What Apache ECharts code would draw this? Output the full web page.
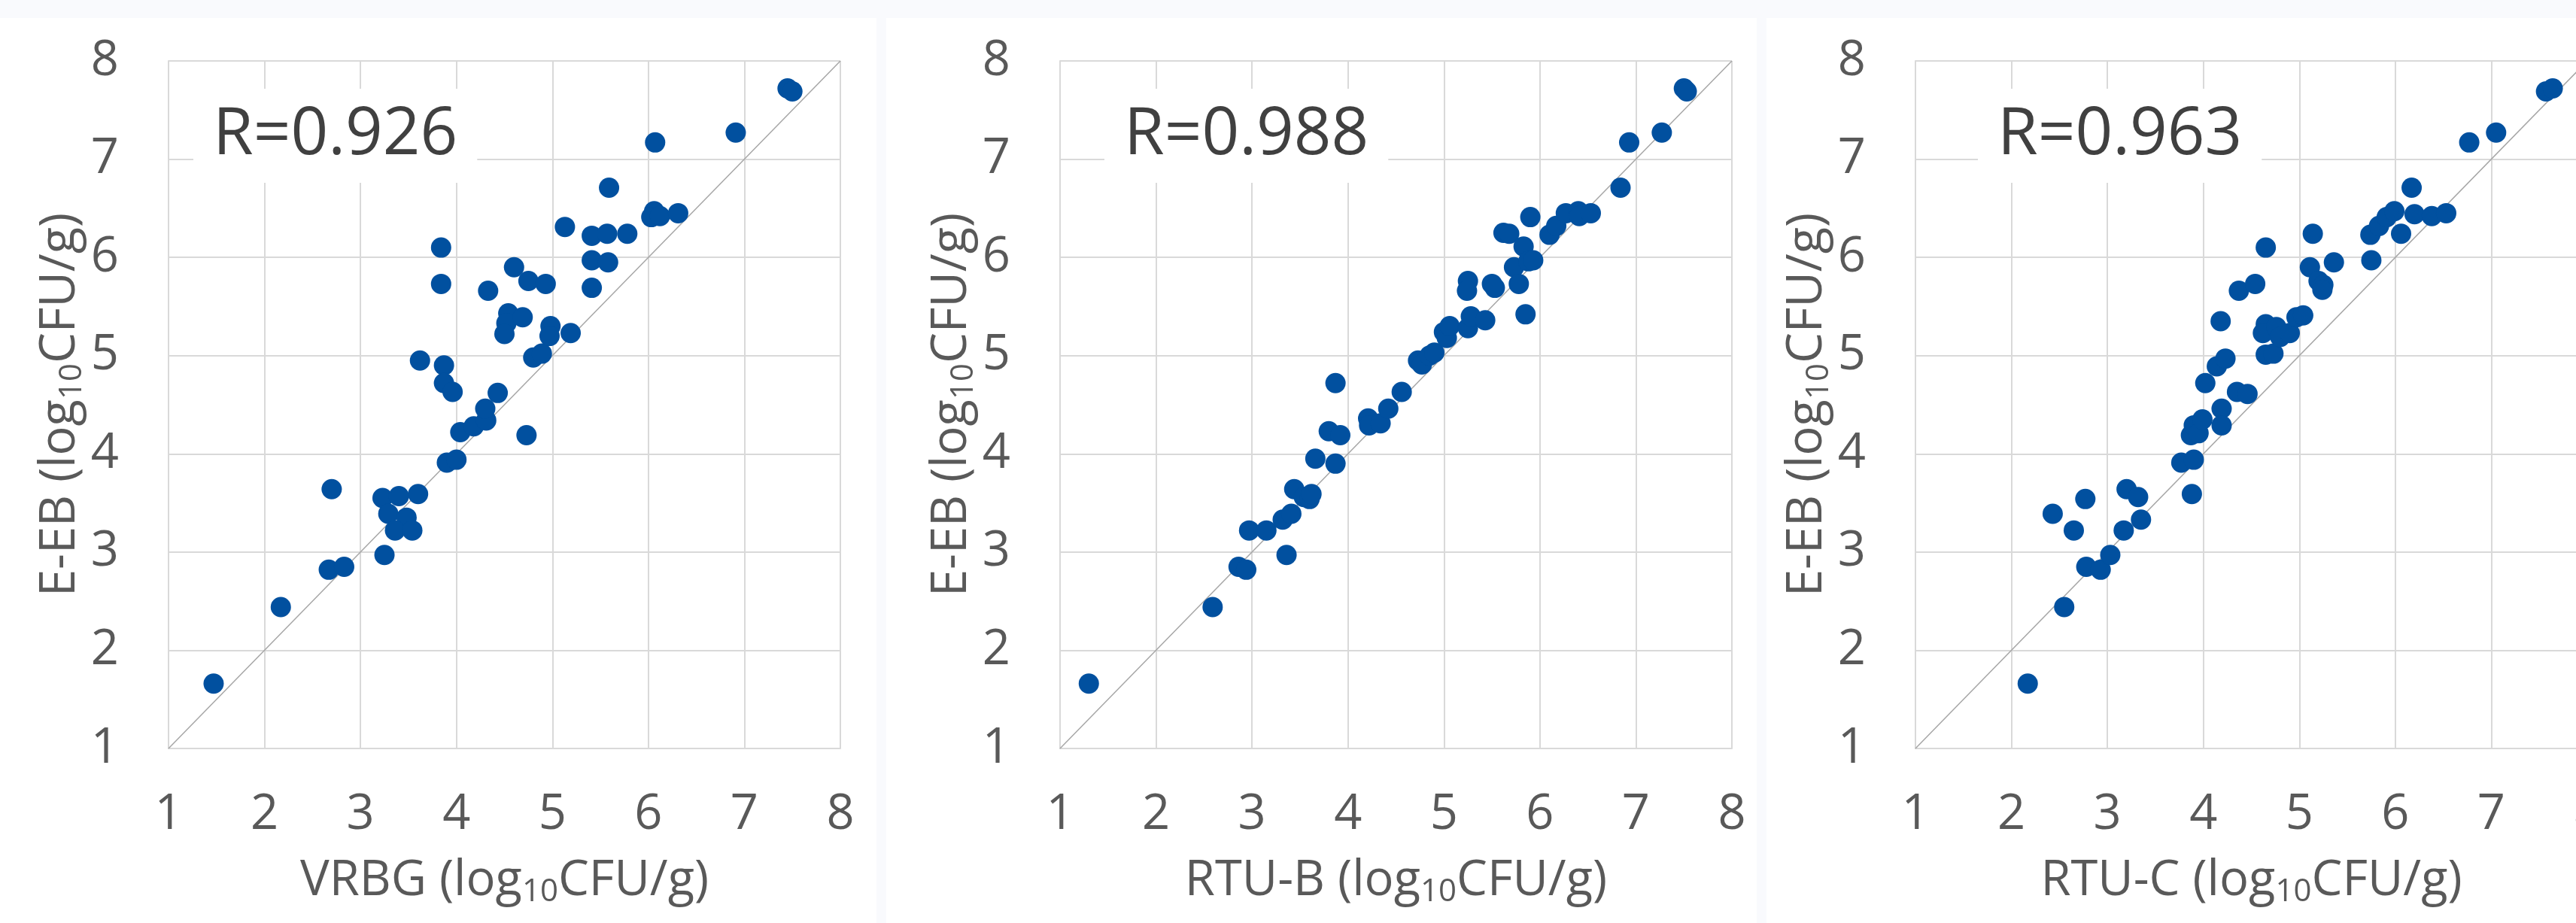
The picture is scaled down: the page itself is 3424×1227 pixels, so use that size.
<!DOCTYPE html>
<html>
<head>
<meta charset="utf-8">
<script src="https://cdn.jsdelivr.net/npm/echarts@6/dist/echarts.min.js"></script>
<style>
html,body{margin:0;padding:0;background:#fff;}
#chart{width:3424px;height:1227px;}
</style>
</head>
<body>
<div id="chart"></div>
<script>
// ---- Data (log10 CFU/g) ----
const vrbgX = [1.47,2.17,2.67,2.83,2.70,3.25,3.23,3.40,3.60,3.29,3.48,3.36,3.54,3.62,3.84,3.84,3.87,3.87,3.96,3.90,4.00,4.04,4.18,4.31,4.30,4.33,4.43,4.73,4.60,4.75,4.93,4.54,4.52,4.50,4.69,4.80,4.89,4.98,4.97,5.19,5.13,5.41,5.57,5.78,5.41,5.58,5.41,5.59,6.07,6.06,6.03,6.12,6.31,6.91,7.45,7.50];
const vrbgY = [1.66,2.44,2.82,2.85,3.64,2.97,3.55,3.57,3.59,3.39,3.35,3.22,3.22,4.95,6.10,5.73,4.90,4.72,4.63,3.91,3.94,4.22,4.28,4.34,4.46,5.66,4.62,4.19,5.90,5.76,5.73,5.43,5.33,5.22,5.39,4.98,5.02,5.30,5.20,5.23,6.31,6.22,6.24,6.24,5.97,5.95,5.69,6.71,7.17,6.47,6.41,6.42,6.45,7.27,7.72,7.69];

const rtubX = [1.30,2.59,2.86,2.94,3.36,2.97,3.15,3.32,3.41,3.44,3.54,3.60,3.62,3.66,3.87,3.80,3.92,3.87,4.21,4.22,4.34,4.42,4.56,4.73,4.77,4.85,4.90,5.00,5.03,5.06,5.25,5.28,5.43,5.25,5.24,5.50,5.53,5.62,5.68,5.73,5.78,5.83,5.85,5.88,5.93,5.90,6.10,6.17,6.27,6.40,6.41,6.53,6.84,6.93,7.27,7.50,7.53];
const rtubY = [1.66,2.44,2.85,2.82,2.97,3.22,3.22,3.33,3.39,3.64,3.56,3.54,3.59,3.95,3.90,4.23,4.19,4.72,4.36,4.29,4.31,4.46,4.63,4.95,4.91,5.00,5.03,5.24,5.18,5.30,5.28,5.40,5.36,5.76,5.66,5.73,5.69,6.25,6.24,5.90,5.73,6.11,5.42,5.96,5.97,6.41,6.23,6.32,6.45,6.47,6.42,6.45,6.71,7.17,7.27,7.72,7.69];

const rtucX = [2.17,2.55,2.78,2.93,3.03,2.43,2.65,2.77,3.17,3.20,3.32,3.35,3.77,3.90,3.88,3.87,3.90,3.95,3.99,4.02,4.19,4.19,4.14,4.23,4.18,4.35,4.46,4.37,4.54,4.65,4.65,4.62,4.65,4.73,4.76,4.80,4.90,4.97,5.04,5.11,5.14,5.20,5.25,5.24,5.36,5.74,5.75,5.83,5.91,5.99,6.06,6.17,6.20,6.38,6.53,6.77,7.05,7.57,7.64];
const rtucY = [1.66,2.44,2.85,2.82,2.97,3.39,3.22,3.54,3.22,3.64,3.56,3.33,3.91,3.94,3.59,4.19,4.29,4.21,4.35,4.72,4.46,4.29,4.89,4.97,5.35,4.63,4.61,5.66,5.73,6.10,5.32,5.23,5.01,5.02,5.29,5.19,5.23,5.39,5.41,5.90,6.24,5.76,5.72,5.67,5.95,6.23,5.97,6.32,6.41,6.47,6.24,6.71,6.44,6.42,6.45,7.17,7.27,7.69,7.72];

const xNames = ['VRBG', 'RTU-B', 'RTU-C'];
const yName = 'E-EB';
const rValues = ['R=0.926', 'R=0.988', 'R=0.963'];
const identityLine = [[1, 1], [8, 8]];
const axisMin = 1, axisMax = 8, axisStep = 1;

// ---- Layout ----
const gridLefts = [224, 1409, 2546];
const gridW = 893, gridTop = 81, gridH = 914;
const boxLefts = [257, 1468, 2629];

const seriesPairs = [[vrbgX, vrbgY], [rtubX, rtubY], [rtucX, rtucY]];
const FONT = '"Open Sans", "Noto Sans", sans-serif';
const gridColor = '#d9d9d9';
const labelColor = '#595959';

const rich = {
  sub: { fontSize: 42, fontFamily: FONT, color: labelColor, verticalAlign: 'top', padding: [30, 0, 0, 0] }
};

const grids = [], xAxes = [], yAxes = [], series = [], titles = [];
for (let i = 0; i < 3; i++) {
  grids.push({ left: gridLefts[i], top: gridTop, width: gridW, height: gridH,
    containLabel: false, outerBoundsMode: 'none' });
  const common = {
    gridIndex: i, type: 'value', min: axisMin, max: axisMax, interval: axisStep,
    axisLine: { show: true, lineStyle: { color: gridColor, width: 2 } },
    axisTick: { show: false },
    splitLine: { show: true, lineStyle: { color: gridColor, width: 2 } },
    nameLocation: 'middle',
    nameTextStyle: { fontSize: 65, fontFamily: FONT, color: labelColor, rich: rich },
    axisLabel: { fontSize: 65, fontFamily: FONT, color: labelColor }
  };
  xAxes.push(Object.assign({}, common, {
    name: xNames[i] + ' (log{sub|10}CFU/g)', nameGap: 140,
    axisLabel: Object.assign({}, common.axisLabel, { margin: 56 })
  }));
  yAxes.push(Object.assign({}, common, {
    name: yName + ' (log{sub|10}CFU/g)', nameGap: 94,
    axisLabel: Object.assign({}, common.axisLabel, { margin: 66 })
  }));
  const pts = seriesPairs[i][0].map((x, k) => [x, seriesPairs[i][1][k]]);
  series.push({
    type: 'line', xAxisIndex: i, yAxisIndex: i, data: identityLine,
    showSymbol: false, symbol: 'none', silent: true, z: 1,
    lineStyle: { color: '#a6a6a6', width: 1.5 }
  });
  series.push({
    type: 'scatter', xAxisIndex: i, yAxisIndex: i, data: pts,
    symbolSize: 27, z: 3,
    itemStyle: { color: '#01509f', opacity: 1 }
  });
  titles.push({
    text: rValues[i], left: boxLefts[i], top: 118,
    backgroundColor: '#ffffff', padding: [19, 26, 19, 26],
    textStyle: { fontSize: 87, fontFamily: FONT, color: '#404040', fontWeight: 'normal', lineHeight: 87 }
  });
}

const chart = echarts.init(document.getElementById('chart'), null, { renderer: 'canvas' });
chart.setOption({
  backgroundColor: '#ffffff',
  animation: false,
  title: titles,
  grid: grids,
  xAxis: xAxes,
  yAxis: yAxes,
  series: series,
  graphic: [
    { type: 'rect', silent: true, z: -10, shape: { x: 0, y: 0, width: 3424, height: 24 }, style: { fill: '#f9fafd' } },
    { type: 'rect', silent: true, z: -10, shape: { x: 1165, y: 0, width: 13, height: 1227 }, style: { fill: '#f9fafd' } },
    { type: 'rect', silent: true, z: -10, shape: { x: 2335, y: 0, width: 13, height: 1227 }, style: { fill: '#f9fafd' } }
  ]
});
</script>
</body>
</html>
